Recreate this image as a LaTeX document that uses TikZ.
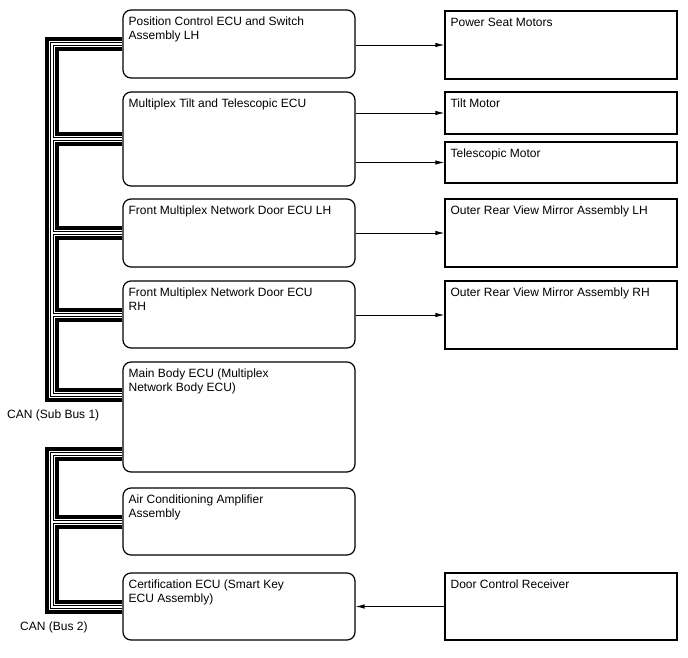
\documentclass[tikz,border=0pt]{standalone}
\usepackage{fontspec}
\setmainfont{Liberation Sans}
\usetikzlibrary{arrows.meta, calc, positioning}

\begin{document}
\begin{tikzpicture}[x=1pt, y=-1pt]
    \tikzset{
  ecu/.style={draw, fill=white, rounded corners=8pt, line width=1.2pt,
    minimum width=232pt, inner sep=0pt},
  part/.style={draw, fill=white, line width=1.2pt,
    minimum width=232pt, inner sep=0pt},
  txt/.style={anchor=north west, inner xsep=6pt, inner ysep=7.5pt, align=left,
    font=\fontsize{12}{13.8}\selectfont},
  sig/.style={-{Latex[length=9pt, width=4.5pt]}, line width=0.9pt},
  lbl/.style={anchor=base west, inner sep=0pt, font=\fontsize{12}{13.8}\selectfont},
}
\useasboundingbox (0,0) rectangle (688,658);

% ── ECUs (left column) ────────────────────────────────────────
\node[ecu, minimum height=68pt] (pc) at (239,44)
  [label={[txt]north west:{Position Control ECU and Switch\\Assembly LH}}] {};
\node[ecu, minimum height=94pt] (tt) at (239,139)
  [label={[txt]north west:{Multiplex Tilt and Telescopic ECU}}] {};
\node[ecu, minimum height=68pt] (fdl) at (239,233)
  [label={[txt]north west:{Front Multiplex Network Door ECU LH}}] {};
\node[ecu, minimum height=67pt] (fdr) at (239,314.5)
  [label={[txt]north west:{Front Multiplex Network Door ECU\\RH}}] {};
\node[ecu, minimum height=110pt] (mb) at (239,417)
  [label={[txt]north west:{Main Body ECU (Multiplex\\Network Body ECU)}}] {};
\node[ecu, minimum height=67pt] (ac) at (239,521.5)
  [label={[txt]north west:{Air Conditioning Amplifier\\Assembly}}] {};
\node[ecu, minimum height=67pt] (cert) at (239,606.5)
  [label={[txt]north west:{Certification ECU (Smart Key\\ECU Assembly)}}] {};

% ── Parts (right column) ──────────────────────────────────────
\node[part, minimum height=68pt] (psm) at (561,45)
  [label={[txt]north west:{Power Seat Motors}}] {};
\node[part, minimum height=42pt] (tilt) at (561,113)
  [label={[txt]north west:{Tilt Motor}}] {};
\node[part, minimum height=41pt] (tele) at (561,162.5)
  [label={[txt]north west:{Telescopic Motor}}] {};
\node[part, minimum height=68pt] (mlh) at (561,233)
  [label={[txt]north west:{Outer Rear View Mirror Assembly LH}}] {};
\node[part, minimum height=68pt] (mrh) at (561,315)
  [label={[txt]north west:{Outer Rear View Mirror Assembly RH}}] {};
\node[part, minimum height=67pt] (dcr) at (561,606.5)
  [label={[txt]north west:{Door Control Receiver}}] {};

% ── CAN buses (twisted pair, drawn layer by layer) ────────────
\coordinate (sb1) at (52,0);
\coordinate (sb2) at (52,0);
\coordinate (mb1) at ([yshift=22pt]mb.west);
\coordinate (mb2) at ([yshift=-37pt]mb.west);
\foreach \w/\c in {14pt/black, 6pt/white, 4pt/black, 2pt/white}{
  \draw[line width=\w, \c] (pc.west) -- (pc.west -| sb1) |- (mb1);
  \foreach \n in {tt, fdl, fdr}{
    \draw[line width=\w, \c] (\n.west) -- (\n.west -| sb1);
  }
  \draw[line width=\w, \c] (mb2) -- (mb2 -| sb2) |- (cert.west);
  \draw[line width=\w, \c] (ac.west) -- (ac.west -| sb2);
}
\node[lbl] (can1) at (7,418) {CAN (Sub Bus 1)};
\node[lbl] (can2) at (20,630) {CAN (Bus 2)};

% ── Signals ───────────────────────────────────────────────────
\draw[sig] (pc.east |- psm.west) -- (psm.west);
\draw[sig] (tt.east |- tilt.west) -- (tilt.west);
\draw[sig] (tt.east |- tele.west) -- (tele.west);
\draw[sig] (fdl.east |- mlh.west) -- (mlh.west);
\draw[sig] (fdr.east |- mrh.west) -- (mrh.west);
\draw[sig] (dcr.west) -- (dcr.west -| cert.east);

\end{tikzpicture}
\end{document}
